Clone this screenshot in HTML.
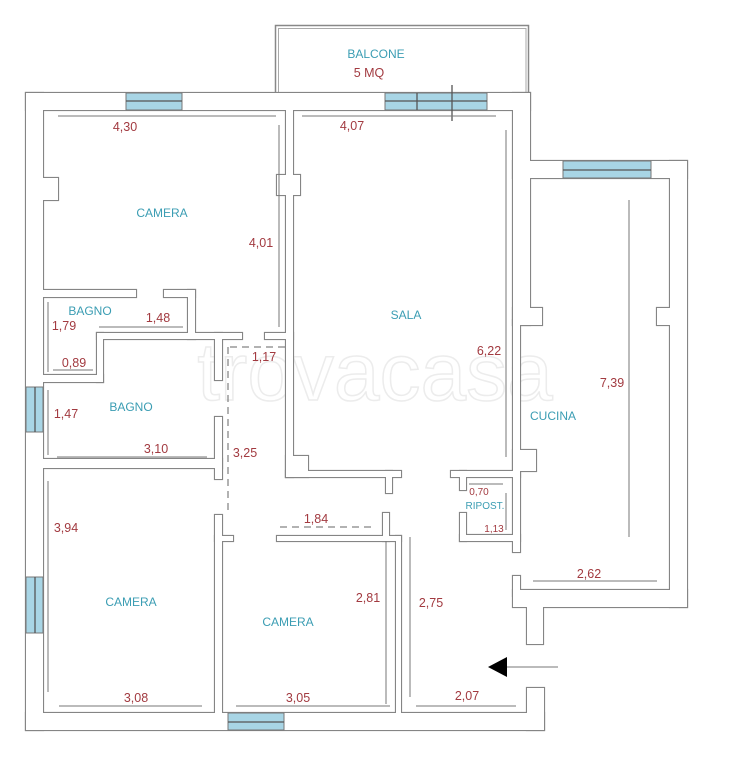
<!DOCTYPE html>
<html><head><meta charset="utf-8"><style>
html,body{margin:0;padding:0;background:#fff;}
svg{display:block;}
.r{font-family:"Liberation Sans",sans-serif;font-size:12.5px;fill:#a23a40;text-anchor:middle;}
.t{font-family:"Liberation Sans",sans-serif;font-size:12px;fill:#3b9db3;text-anchor:middle;}
</style></head><body>
<svg width="748" height="768" viewBox="0 0 748 768" xmlns="http://www.w3.org/2000/svg">
<defs>
<g id="w">
<rect x="26" y="93" width="504" height="17"/>
<rect x="26" y="93" width="17" height="637"/>
<rect x="26" y="713" width="518" height="17"/>
<rect x="513" y="93" width="17" height="232"/>
<rect x="513" y="161" width="174" height="17"/>
<rect x="670" y="161" width="17" height="446"/>
<rect x="513" y="590" width="174" height="17"/>
<rect x="527" y="600" width="16" height="44"/>
<rect x="527" y="688" width="17" height="42"/>
<rect x="513" y="320" width="7" height="232"/>
<rect x="513" y="308" width="29" height="17"/>
<rect x="657" y="308" width="20" height="17"/>
<rect x="513" y="576" width="7" height="20"/>
<rect x="513" y="450" width="23" height="21"/>
<rect x="451" y="471" width="69" height="6"/>
<rect x="460" y="471" width="6" height="19"/>
<rect x="460" y="513" width="6" height="28"/>
<rect x="460" y="535" width="60" height="6"/>
<rect x="286" y="100" width="7" height="377"/>
<rect x="277" y="175" width="23" height="20"/>
<rect x="286" y="456" width="22" height="21"/>
<rect x="286" y="471" width="115" height="6"/>
<rect x="386" y="471" width="6" height="22"/>
<rect x="383" y="513" width="6" height="28"/>
<rect x="396" y="536" width="5" height="185"/>
<rect x="277" y="536" width="124" height="5"/>
<rect x="35" y="178" width="23" height="22"/>
<rect x="35" y="290" width="101" height="7"/>
<rect x="164" y="290" width="31" height="7"/>
<rect x="188" y="290" width="7" height="49"/>
<rect x="97" y="333" width="145" height="6"/>
<rect x="265" y="333" width="28" height="6"/>
<rect x="97" y="333" width="6" height="49"/>
<rect x="35" y="375" width="68" height="7"/>
<rect x="215" y="333" width="7" height="47"/>
<rect x="215" y="417" width="7" height="62"/>
<rect x="35" y="459" width="187" height="9"/>
<rect x="215" y="515" width="7" height="205"/>
<rect x="215" y="536" width="18" height="5"/>
</g>
</defs>
<text x="375" y="400" font-family="Liberation Sans,sans-serif" font-size="82" fill="none" stroke="#ececec" stroke-width="1.5" text-anchor="middle">trovacasa</text>
<!-- balcony -->
<rect x="275.5" y="25.5" width="253" height="68" fill="none" stroke="#888" stroke-width="1.5"/>
<polyline points="278.5,93 278.5,28.5 526,28.5 526,93" fill="none" stroke="#aaa" stroke-width="1"/>
<use href="#w" fill="none" stroke="#858585" stroke-width="2.2"/>
<use href="#w" fill="#fff" stroke="none"/>
<!-- windows -->
<g fill="#a8d5e5" stroke="#777" stroke-width="1">
<rect x="126" y="93" width="56" height="17"/>
<rect x="385" y="93" width="102" height="17"/>
<rect x="563" y="161" width="88" height="17"/>
<rect x="26" y="387" width="17" height="45"/>
<rect x="26" y="577" width="17" height="56"/>
<rect x="228" y="713" width="56" height="17"/>
</g>
<g stroke="#555" stroke-width="1.3">
<line x1="126" y1="101" x2="182" y2="101"/><line x1="385" y1="101" x2="487" y2="101"/>
<line x1="417" y1="93" x2="417" y2="110"/><line x1="452" y1="85" x2="452" y2="121"/>
<line x1="563" y1="170" x2="651" y2="170"/><line x1="35" y1="387" x2="35" y2="432"/>
<line x1="35" y1="577" x2="35" y2="633"/><line x1="228" y1="722" x2="284" y2="722"/>
</g>
<!-- dimension lines -->
<g stroke="#777" stroke-width="1" fill="none">
<line x1="58" y1="116" x2="276" y2="116"/><line x1="279" y1="125" x2="279" y2="327"/>
<line x1="302" y1="116" x2="496" y2="116"/><line x1="506" y1="130" x2="506" y2="457"/>
<line x1="629" y1="200" x2="629" y2="537"/><line x1="533" y1="581" x2="657" y2="581"/>
<line x1="99" y1="327" x2="183" y2="327"/><line x1="48" y1="302" x2="48" y2="372"/>
<line x1="53" y1="370" x2="93" y2="370"/><line x1="48" y1="390" x2="48" y2="455"/>
<line x1="57" y1="457" x2="207" y2="457"/><line x1="48" y1="481" x2="48" y2="692"/>
<line x1="59" y1="706" x2="202" y2="706"/><line x1="236" y1="706" x2="390" y2="706"/>
<line x1="386" y1="541" x2="386" y2="704"/><line x1="410" y1="537" x2="410" y2="697"/>
<line x1="416" y1="706" x2="516" y2="706"/><line x1="469" y1="484" x2="503" y2="484"/>
<line x1="506" y1="493" x2="506" y2="530"/>
<line x1="507" y1="667" x2="558" y2="667"/>
</g>
<g stroke="#666" stroke-width="1" fill="none" stroke-dasharray="7,5">
<line x1="228" y1="347" x2="228" y2="515"/><line x1="230" y1="347" x2="285" y2="347"/>
<line x1="280" y1="527" x2="372" y2="527"/>
</g>
<polygon points="488,667 507,657 507,677" fill="#000"/>
<!-- labels -->
<text class="t" x="376" y="58">BALCONE</text>
<text class="r" x="369" y="77">5 MQ</text>
<text class="t" x="162" y="217">CAMERA</text>
<text class="t" x="406" y="319">SALA</text>
<text class="t" x="90" y="315">BAGNO</text>
<text class="t" x="131" y="411">BAGNO</text>
<text class="t" x="131" y="606">CAMERA</text>
<text class="t" x="288" y="626">CAMERA</text>
<text class="t" x="553" y="420">CUCINA</text>
<text class="t" x="485" y="509" style="font-size:10px">RIPOST.</text>
<text class="r" x="125" y="131">4,30</text>
<text class="r" x="261" y="247">4,01</text>
<text class="r" x="352" y="130">4,07</text>
<text class="r" x="489" y="355">6,22</text>
<text class="r" x="64" y="330">1,79</text>
<text class="r" x="158" y="322">1,48</text>
<text class="r" x="74" y="367">0,89</text>
<text class="r" x="264" y="361">1,17</text>
<text class="r" x="66" y="418">1,47</text>
<text class="r" x="156" y="453">3,10</text>
<text class="r" x="245" y="457">3,25</text>
<text class="r" x="66" y="532">3,94</text>
<text class="r" x="136" y="702">3,08</text>
<text class="r" x="298" y="702">3,05</text>
<text class="r" x="368" y="602">2,81</text>
<text class="r" x="316" y="523">1,84</text>
<text class="r" x="431" y="607">2,75</text>
<text class="r" x="467" y="700">2,07</text>
<text class="r" x="479" y="495" style="font-size:10px">0,70</text>
<text class="r" x="494" y="532" style="font-size:10px">1,13</text>
<text class="r" x="612" y="387">7,39</text>
<text class="r" x="589" y="578">2,62</text>
</svg>
</body></html>
